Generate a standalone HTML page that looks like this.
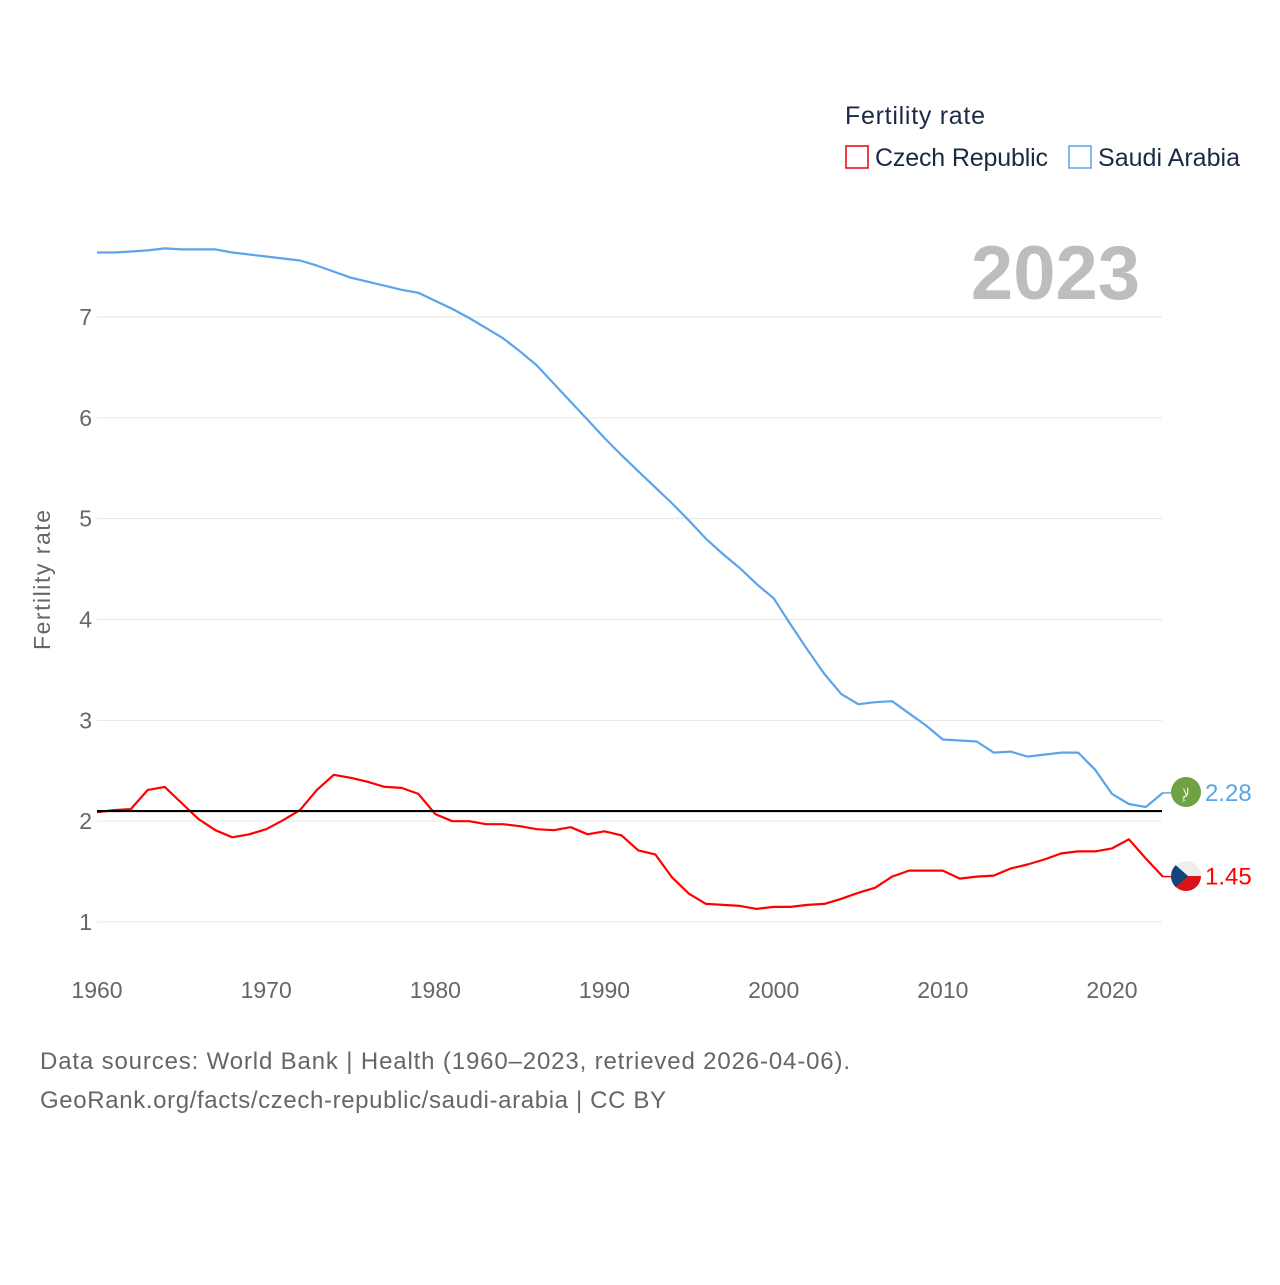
<!DOCTYPE html>
<html><head><meta charset="utf-8"><style>
body{margin:0;background:#fff;}
svg text{font-family:"Liberation Sans",sans-serif;}
</style></head><body>
<svg id="chart" width="1280" height="1280" xmlns="http://www.w3.org/2000/svg">
<rect width="1280" height="1280" fill="#fff"/>
<g id="grid"></g>
<g id="lines"></g>
<text x="845" y="124" font-size="25" fill="#1b2a44" textLength="140">Fertility rate</text>
<g><rect x="846" y="146" width="22" height="22" fill="none" stroke="#e8000b" stroke-width="1.5"/><text x="875" y="166" font-size="25" fill="#1b2a44" textLength="173">Czech Republic</text></g>
<g><rect x="1069" y="146" width="22" height="22" fill="none" stroke="#5aa4ec" stroke-width="1.5"/><text x="1098" y="166" font-size="25" fill="#1b2a44" textLength="142">Saudi Arabia</text></g>
<text x="1140" y="299" font-size="76" font-weight="bold" fill="#bdbdbd" text-anchor="end">2023</text>
<text transform="translate(50,580) rotate(-90)" font-size="23" fill="#666" text-anchor="middle" textLength="140">Fertility rate</text>
<text x="40" y="1069" font-size="24" fill="#666" textLength="810">Data sources: World Bank | Health (1960–2023, retrieved 2026-04-06).</text>
<text x="40" y="1108" font-size="24" fill="#666" textLength="626">GeoRank.org/facts/czech-republic/saudi-arabia | CC BY</text>
<g><circle cx="1186" cy="792" r="15" fill="#6fa244"/><text x="1186" y="797" font-size="12" fill="#fff" text-anchor="middle">لإِ</text></g>
<g><clipPath id="cc"><circle cx="1186" cy="876" r="15"/></clipPath><g clip-path="url(#cc)"><rect x="1171" y="861" width="30" height="15" fill="#eee"/><rect x="1171" y="876" width="30" height="15" fill="#d7141a"/><polygon points="1171,861 1188,876 1171,891" fill="#11457e"/></g></g>
</svg>
<script>
const years=[];for(let y=1960;y<=2023;y++)years.push(y);
const saudi=[7.64,7.64,7.65,7.66,7.68,7.67,7.67,7.67,7.64,7.62,7.60,7.58,7.56,7.51,7.45,7.39,7.35,7.31,7.27,7.24,7.16,7.08,6.99,6.89,6.79,6.66,6.52,6.34,6.16,5.98,5.80,5.63,5.47,5.31,5.15,4.98,4.80,4.65,4.51,4.35,4.21,3.95,3.70,3.46,3.26,3.16,3.18,3.19,3.07,2.95,2.81,2.80,2.79,2.68,2.69,2.64,2.66,2.68,2.68,2.51,2.27,2.17,2.14,2.28];
const czech=[2.09,2.11,2.12,2.31,2.34,2.18,2.02,1.91,1.84,1.87,1.92,2.01,2.11,2.31,2.46,2.43,2.39,2.34,2.33,2.27,2.07,2.00,2.00,1.97,1.97,1.95,1.92,1.91,1.94,1.87,1.90,1.86,1.71,1.67,1.44,1.28,1.18,1.17,1.16,1.13,1.15,1.15,1.17,1.18,1.23,1.29,1.34,1.45,1.51,1.51,1.51,1.43,1.45,1.46,1.53,1.57,1.62,1.68,1.70,1.70,1.73,1.82,1.63,1.45];
const yTicks=[1,2,3,4,5,6,7];
const xTicks=[1960,1970,1980,1990,2000,2010,2020];
const replacement=2.1;
const NS="http://www.w3.org/2000/svg";
const X=y=>97+(y-1960)*(1112-97)/60;
const Y=v=>922-(v-1)*(922-317)/6;
function mk(t,a,p){const e=document.createElementNS(NS,t);for(const k in a)e.setAttribute(k,a[k]);p.appendChild(e);return e;}
const grid=document.getElementById('grid'),lines=document.getElementById('lines');
yTicks.forEach(v=>{
 const l=mk('line',{x1:97,x2:1162,y1:Y(v),y2:Y(v),stroke:'#e6e6e6','stroke-width':1},grid);
 
 
 const t=mk('text',{x:92,y:Y(v)+8,'font-size':23,fill:'#666','text-anchor':'end'},grid);t.textContent=v;
 
 
});
xTicks.forEach(v=>{
 const t=mk('text',{x:X(v),y:998,'font-size':23,fill:'#666','text-anchor':'middle'},grid);t.textContent=v;
 
 
});
function path(arr,color,name){
 const d=arr.map((v,i)=>(i?'L':'M')+X(years[i]).toFixed(1)+','+Y(v).toFixed(1)).join('');
 const p=mk('path',{d:d,fill:'none',stroke:color,'stroke-width':2.2,'stroke-linejoin':'round'},lines);
 
 
}
path(saudi,'#5aa4ec','saudi-arabia-line');
path(czech,'#f00','czech-republic-line');
const rl=mk('line',{x1:97,x2:1162,y1:Y(replacement),y2:Y(replacement),stroke:'#000','stroke-width':2.2},lines);


const last=years.length-1;
[[saudi,'#5aa4ec','saudi-value-label'],[czech,'#f00','czech-value-label']].forEach(([a,c,n])=>{
 mk('line',{x1:X(years[last]),x2:1172,y1:Y(a[last]),y2:Y(a[last]),stroke:c,'stroke-width':1.5},lines);
 const t=mk('text',{x:1205,y:Y(a[last])+8,'font-size':24,fill:c},lines);t.textContent=a[last].toFixed(2);
 
 
});
</script>
</body></html>
